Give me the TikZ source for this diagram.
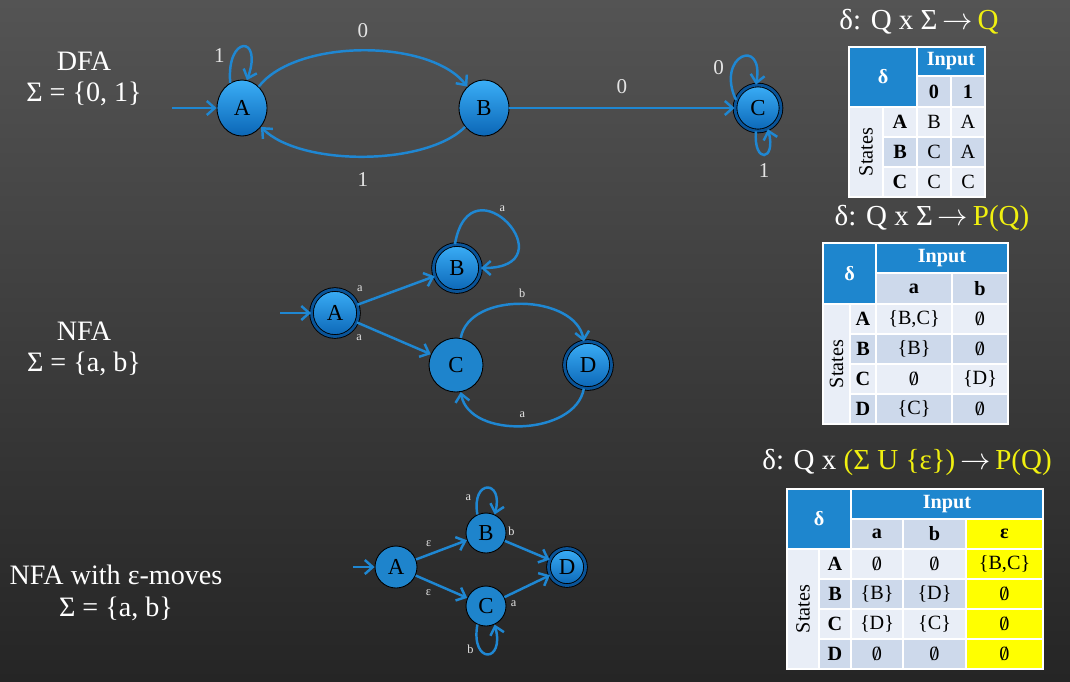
\documentclass[tikz,border=0pt]{standalone}
\usepackage{fontspec}
\setmainfont{Liberation Serif}
\usetikzlibrary{arrows.meta, shapes.geometric}

\definecolor{bgtop}{HTML}{545454}
\definecolor{bgbot}{HTML}{252525}
\definecolor{edgeblue}{HTML}{1F87D2}
\definecolor{nodetop}{HTML}{3AAEF7}
\definecolor{nodebot}{HTML}{0B66B6}
\definecolor{ringblue}{HTML}{0A5498}
\definecolor{flatblue}{HTML}{1E84CC}
\definecolor{hdrblue}{HTML}{1E86CE}
\definecolor{rowlight}{HTML}{E9EEF7}
\definecolor{rowdark}{HTML}{CDD9EB}
\definecolor{hiyellow}{HTML}{FFFF00}
\definecolor{ttlyellow}{HTML}{F0F010}
\definecolor{lblgray}{HTML}{E4E4E4}

\newcommand{\es}{\ooalign{0\cr\hidewidth/\hidewidth}}
\newcommand{\tarrow}{\,$\rightarrow$\,}

\tikzset{
  state/.style={circle, draw=black, line width=0.5pt, inner sep=0pt,
    top color=nodetop, bottom color=nodebot,
    font=\fontsize{13}{13}\selectfont},
  flat/.style={circle, draw=black, line width=0.5pt, inner sep=0pt,
    fill=flatblue, font=\fontsize{13}{13}\selectfont},
  accepting/.style={double=ringblue, double distance=1.6pt},
  trans/.style={draw=edgeblue, line width=1.4pt,
    -{Straight Barb[length=4.5pt, width=8pt]}},
  dlbl/.style={text=lblgray, font=\fontsize{12}{12}\selectfont},
  nlbl/.style={text=lblgray, font=\fontsize{7}{7}\selectfont, inner sep=1pt},
  side/.style={text=white, align=center, font=\fontsize{16}{18}\selectfont},
  ttl/.style={text=white, font=\fontsize{16.5}{17}\selectfont},
  tcell/.style={draw=white, line width=1.1pt},
  ttxt/.style={inner sep=0pt, font=\fontsize{11.5}{12}\selectfont},
  tbold/.style={inner sep=0pt, font=\fontsize{11.5}{12}\selectfont\bfseries},
  thdr/.style={inner sep=0pt, text=white, font=\fontsize{11.5}{12}\selectfont\bfseries}
}

\begin{document}
\begin{tikzpicture}[x=0.02cm, y=-0.02cm]
  \useasboundingbox (0,0) rectangle (1070,681);
  \shade[top color=bgtop, bottom color=bgbot] (0,0) rectangle (1070,681);

  % left captions
  \node[side] (dfa) at (84,79) {DFA\\Σ = \{0, 1\}};
  \node[side] (nfa) at (84,349) {NFA\\Σ = \{a, b\}};
  \node[side] (enfa) at (116,593) {NFA with ε-moves\\Σ = \{a, b\}};

  % DFA
  \node[state, ellipse, minimum width=1cm, minimum height=1.12cm] (dA) at (242,108) {A};
  \node[state, ellipse, minimum width=1cm, minimum height=1.12cm] (dB) at (484,108) {B};
  \node[state, accepting, minimum size=0.92cm] (dC) at (758,108) {C};
  \coordinate (dS) at (172,108);
  \draw[trans] (dS) -- (dA);
  \draw[trans] (dA) to[bend left=52, looseness=0.75] node[dlbl, midway, above=3pt] {0} (dB);
  \draw[trans] (dB) to[bend left=45, looseness=0.7] node[dlbl, midway, below=5pt] {1} (dA);
  \draw[trans] (dB) -- (dC) node[dlbl, midway, above=4pt] {0};
  \draw[trans] (dA.115) to[out=95, in=70, looseness=7.3] node[dlbl, pos=0.25, left=1pt] {1} (dA.80);
  \draw[trans] (dC.160) to[out=115, in=80, looseness=5] node[dlbl, pos=0.3, left=1pt] {0} (dC.95);
  \draw[trans] (dC.265) to[out=-95, in=-75, looseness=7] node[dlbl, pos=0.5, below=1pt] {1} (dC.295);

  % NFA
  \node[state, accepting, minimum size=0.94cm] (nA) at (335,313) {A};
  \node[state, accepting, minimum size=0.94cm] (nB) at (457,268) {B};
  \node[flat, minimum size=1.08cm] (nC) at (456,365) {C};
  \node[state, accepting, minimum size=0.94cm] (nD) at (588,365) {D};
  \coordinate (nS) at (280,313);
  \draw[trans] (nS) -- (nA);
  \draw[trans] (nA) -- (nB) node[nlbl, pos=0.03, above=5pt] {a};
  \draw[trans] (nA) -- (nC) node[nlbl, pos=0.03, below=5pt] {a};
  \draw[trans] (nB.95) to[out=80, in=0, looseness=6.5] node[nlbl, pos=0.45, above=2pt] {a} (nB.0);
  \draw[trans] (nC) to[out=80, in=100] node[nlbl, midway, above=2pt] {b} (nD);
  \draw[trans] (nD) to[out=-100, in=-80] node[nlbl, midway, above=3pt] {a} (nC);

  % NFA with epsilon moves
  \node[flat, minimum size=0.84cm] (eA) at (396,567) {A};
  \node[flat, minimum size=0.8cm] (eB) at (486,533) {B};
  \node[flat, minimum size=0.8cm] (eC) at (486,606) {C};
  \node[state, accepting, minimum size=0.74cm] (eD) at (567,567) {D};
  \coordinate (eS) at (353,567);
  \draw[trans] (eS) -- (eA);
  \draw[trans] (eA) -- (eB) node[nlbl, pos=0.25, above=3pt] {ε};
  \draw[trans] (eA) -- (eC) node[nlbl, pos=0.25, below=3pt] {ε};
  \draw[trans] (eB) -- (eD) node[nlbl, pos=0.15, above=3pt] {b};
  \draw[trans] (eC) -- (eD) node[nlbl, pos=0.2, below=3pt] {a};
  \draw[trans] (eB.115) to[out=100, in=75, looseness=5.4] node[nlbl, pos=0.2, left=2pt] {a} (eB.65);
  \draw[trans] (eC.245) to[out=-100, in=-75, looseness=6] node[nlbl, pos=0.3, left=2pt] {b} (eC.295);

  % titles
  \node[ttl] (ttl1) at (919,22) {δ: Q x Σ\tarrow\textcolor{ttlyellow}{Q}};
  \node[ttl] (ttl2) at (932,218) {δ: Q x Σ\tarrow\textcolor{ttlyellow}{P(Q)}};
  \node[ttl] (ttl3) at (907,462) {δ: Q x \textcolor{ttlyellow}{(Σ U \{ε\})}\tarrow\textcolor{ttlyellow}{P(Q)}};

  % table 1
  \filldraw[tcell, fill=hdrblue] (849,47) rectangle (917,107);
  \filldraw[tcell, fill=hdrblue] (917,47) rectangle (985,76);
  \filldraw[tcell, fill=rowdark] (917,76) rectangle (951,107);
  \filldraw[tcell, fill=rowdark] (951,76) rectangle (985,107);
  \filldraw[tcell, fill=rowlight] (849,107) rectangle (883,197);
  \node[thdr] (ta-d) at (883,77) {δ};
  \node[thdr] (ta-in) at (951,61.5) {Input};
  \node[tbold] (ta-0) at (934,91.5) {0};
  \node[tbold] (ta-1) at (968,91.5) {1};
  \node[ttxt, rotate=90] (ta-st) at (866,152) {States};
  \foreach \r/\y/\cl/\u/\v in {A/107/rowlight/B/A, B/137/rowdark/C/A, C/167/rowlight/C/C} {
    \filldraw[tcell, fill=\cl] (883,\y) rectangle (917,\y+30);
    \filldraw[tcell, fill=\cl] (917,\y) rectangle (951,\y+30);
    \filldraw[tcell, fill=\cl] (951,\y) rectangle (985,\y+30);
    \node[tbold] (ta-\r) at (900,\y+15) {\r};
    \node[ttxt] (ta-\r-0) at (934,\y+15) {\u};
    \node[ttxt] (ta-\r-1) at (968,\y+15) {\v};
  }

  % table 2
  \filldraw[tcell, fill=hdrblue] (823,243) rectangle (876,304);
  \filldraw[tcell, fill=hdrblue] (876,243) rectangle (1008,273);
  \filldraw[tcell, fill=rowdark] (876,273) rectangle (952,304);
  \filldraw[tcell, fill=rowdark] (952,273) rectangle (1008,304);
  \filldraw[tcell, fill=rowlight] (823,304) rectangle (850,424);
  \node[thdr] (tb-d) at (849.5,273.5) {δ};
  \node[thdr] (tb-in) at (942,258) {Input};
  \node[tbold] (tb-a) at (914,288.5) {a};
  \node[tbold] (tb-b) at (980,288.5) {b};
  \node[ttxt, rotate=90] (tb-st) at (836.5,364) {States};
  \foreach \r/\y/\cl/\u/\v in {A/304/rowlight/{\{B,C\}}/\es, B/334/rowdark/\{B\}/\es,
      C/364/rowlight/\es/\{D\}, D/394/rowdark/\{C\}/\es} {
    \filldraw[tcell, fill=\cl] (850,\y) rectangle (876,\y+30);
    \filldraw[tcell, fill=\cl] (876,\y) rectangle (952,\y+30);
    \filldraw[tcell, fill=\cl] (952,\y) rectangle (1008,\y+30);
    \node[tbold] (tb-\r) at (863,\y+15) {\r};
    \node[ttxt] (tb-\r-a) at (914,\y+15) {\u};
    \node[ttxt] (tb-\r-b) at (980,\y+15) {\v};
  }

  % table 3
  \filldraw[tcell, fill=hdrblue] (787,489) rectangle (851,549);
  \filldraw[tcell, fill=hdrblue] (851,489) rectangle (1043,519);
  \filldraw[tcell, fill=rowdark] (851,519) rectangle (903,549);
  \filldraw[tcell, fill=rowdark] (903,519) rectangle (966,549);
  \filldraw[tcell, fill=hiyellow] (966,519) rectangle (1043,549);
  \filldraw[tcell, fill=rowlight] (787,549) rectangle (819,669);
  \node[thdr] (tc-d) at (819,519) {δ};
  \node[thdr] (tc-in) at (947,504) {Input};
  \node[tbold] (tc-a) at (877,534) {a};
  \node[tbold] (tc-b) at (934.5,534) {b};
  \node[tbold] (tc-e) at (1004.5,534) {ε};
  \node[ttxt, rotate=90] (tc-st) at (803,609) {States};
  \foreach \r/\y/\cl/\u/\v/\w in {A/549/rowlight/\es/\es/{\{B,C\}}, B/579/rowdark/\{B\}/\{D\}/\es,
      C/609/rowlight/\{D\}/\{C\}/\es, D/639/rowdark/\es/\es/\es} {
    \filldraw[tcell, fill=\cl] (819,\y) rectangle (851,\y+30);
    \filldraw[tcell, fill=\cl] (851,\y) rectangle (903,\y+30);
    \filldraw[tcell, fill=\cl] (903,\y) rectangle (966,\y+30);
    \filldraw[tcell, fill=hiyellow] (966,\y) rectangle (1043,\y+30);
    \node[tbold] (tc-\r) at (835,\y+15) {\r};
    \node[ttxt] (tc-\r-a) at (877,\y+15) {\u};
    \node[ttxt] (tc-\r-b) at (934.5,\y+15) {\v};
    \node[ttxt] (tc-\r-e) at (1004.5,\y+15) {\w};
  }
\end{tikzpicture}
\end{document}
